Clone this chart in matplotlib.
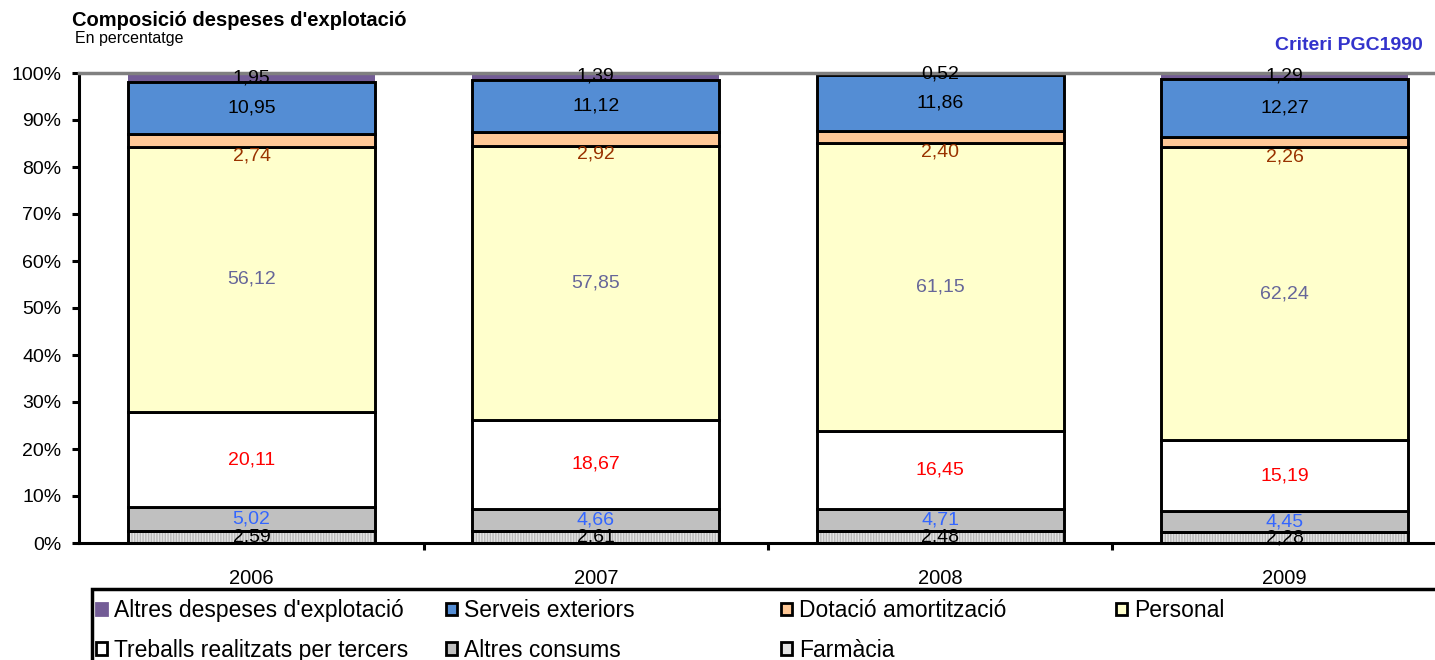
import numpy as np
import matplotlib
matplotlib.use('Agg')
import matplotlib.pyplot as plt
from matplotlib.patches import Patch, Rectangle

years = ['2006', '2007', '2008', '2009']

# stacked from bottom to top
series_names = ['Farmàcia', 'Altres consums', 'Treballs realitzats per tercers',
                'Personal', 'Dotació amortització', 'Serveis exteriors',
                "Altres despeses d'explotació"]
farmacia = [2.59, 2.61, 2.48, 2.28]
altres_consums = [5.02, 4.66, 4.71, 4.45]
treballs = [20.11, 18.67, 16.45, 15.19]
personal = [56.12, 57.85, 61.15, 62.24]
dotacio = [2.74, 2.92, 2.40, 2.26]
serveis = [10.95, 11.12, 11.86, 12.27]
altres_despeses = [1.95, 1.39, 0.52, 1.29]

series_values = [farmacia, altres_consums, treballs, personal, dotacio, serveis, altres_despeses]
fill_colors = ['#E4E4E4', '#C0C0C0', '#FFFFFF', '#FFFFCC', '#FFC896', '#548DD4', '#735C96']
label_colors = ['#000000', '#3366FF', '#FF0000', '#666699', '#993300', '#000000', '#000000']

plt.rcParams['font.family'] = ['Liberation Sans', 'DejaVu Sans']

W, H = 1435, 660
fig = plt.figure(figsize=(W / 100, H / 100), dpi=100)
ax = fig.add_axes([79.35 / W, 1 - 543 / H, 1377.3 / W, 470 / H])

x = np.arange(len(years))
data = np.array(series_values)
totals = data.sum(axis=0)
shares = data / totals * 100
bottom = np.zeros(len(years))
bar_w = 0.718
edge_lw = 2.1

for i, name in enumerate(series_names):
    vals = shares[i]
    if name == 'Farmàcia':
        ax.bar(x, vals, bar_w, bottom=bottom, color=fill_colors[i], hatch='||||||',
               edgecolor='#B8B8B8', linewidth=0, zorder=2)
        ax.bar(x, vals, bar_w, bottom=bottom, fill=False, edgecolor='black',
               linewidth=edge_lw, zorder=3)
    elif name == "Altres despeses d'explotació":
        ax.bar(x, vals, bar_w, bottom=bottom, color=fill_colors[i], linewidth=0, zorder=1)
    else:
        ax.bar(x, vals, bar_w, bottom=bottom, color=fill_colors[i], edgecolor='black',
               linewidth=edge_lw, zorder=2)
    dy = -11 if name == 'Dotació amortització' else 0
    for xi, b, v, raw in zip(x, bottom, vals, data[i]):
        ax.annotate(f'{raw:.2f}'.replace('.', ','), (xi, b + v / 2),
                    xytext=(0, dy), textcoords='offset points',
                    ha='center', va='center', fontsize=14, color=label_colors[i], zorder=5)
    bottom += vals

ax.set_xlim(-0.5, len(years) - 0.5)
ax.set_ylim(0, 100)
ax.set_yticks(np.arange(0, 101, 10))
ax.set_yticklabels([f'{v}%' for v in range(0, 101, 10)], fontsize=14)
ax.set_xticks(x)
ax.set_xticklabels(years, fontsize=14.5)
ax.set_xticks(np.arange(0.5, len(years) - 0.5, 1), minor=True)
ax.tick_params(axis='x', which='major', length=0, pad=19)
ax.tick_params(axis='x', which='minor', length=5, width=2.2, direction='out')
ax.tick_params(axis='y', length=5, width=2.2, direction='out', pad=8)

for s in ['left', 'bottom']:
    ax.spines[s].set_linewidth(2.2)
    ax.spines[s].set_color('black')
ax.spines['right'].set_visible(False)
ax.spines['top'].set_color('#808080')
ax.spines['top'].set_linewidth(2.5)

fig.text(72 / W, 1 - 20 / H, "Composició despeses d'explotació", fontsize=14.5,
         fontweight='bold', va='center', ha='left')
fig.text(75 / W, 1 - 39 / H, 'En percentatge', fontsize=11.5, va='center', ha='left')
fig.text(1423 / W, 1 - 45 / H, 'Criteri PGC1990', fontsize=14, fontweight='bold',
         color='#3333CC', va='center', ha='right')

# legend box
fig.add_artist(Rectangle((92 / W, -0.05), 1.0, (660 - 589) / H + 0.05,
                         transform=fig.transFigure, fill=False, edgecolor='black',
                         linewidth=2.5))

legend_rows = [["Altres despeses d'explotació", 'Serveis exteriors', 'Dotació amortització', 'Personal'],
               ['Treballs realitzats per tercers', 'Altres consums', 'Farmàcia']]
col_x = [96, 446, 781, 1116]
for c, cx in enumerate(col_x):
    handles = []
    for row in legend_rows:
        if c >= len(row):
            continue
        name = row[c]
        idx = series_names.index(name)
        ec = fill_colors[idx] if name == "Altres despeses d'explotació" else 'black'
        handles.append(Patch(facecolor=fill_colors[idx], edgecolor=ec, linewidth=2,
                             label=name))
    fig.legend(handles=handles, loc='upper left', bbox_to_anchor=(cx / W, 1 - 599 / H),
               frameon=False, fontsize=16.5, handlelength=0.47, handleheight=0.47,
               handletextpad=0.3, labelspacing=0.74, borderpad=0, borderaxespad=0)

fig.savefig('out.png', dpi=100)
